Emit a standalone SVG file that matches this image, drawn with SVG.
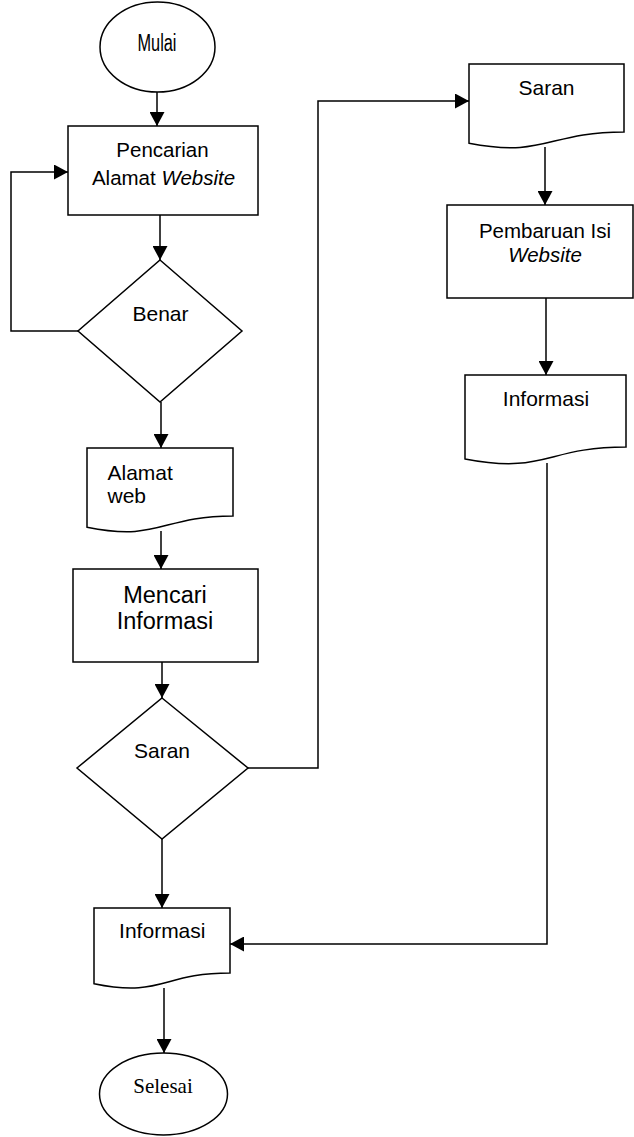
<svg xmlns="http://www.w3.org/2000/svg" width="634" height="1137" viewBox="0 0 634 1137">
<style>
.s{fill:#fff;stroke:#000;stroke-width:1.5}
.c{fill:none;stroke:#000;stroke-width:1.5}
.t{font-family:"Liberation Sans",Arial,sans-serif;fill:#000;text-anchor:middle}
.l{text-anchor:start}
.i{font-style:italic}
</style>
<defs>
<marker id="ah" markerUnits="userSpaceOnUse" markerWidth="15" markerHeight="15" refX="14" refY="7.5" orient="auto">
<path d="M0,0 L14,7.5 L0,15 Z" fill="#000"/>
</marker>
</defs>
<rect width="634" height="1137" fill="#fff"/>
<g id="connectors">
<path class="c" d="M157,92 V126" marker-end="url(#ah)"/>
<path class="c" d="M160,215 V260" marker-end="url(#ah)"/>
<path class="c" d="M78,331 H11 V172 H68" marker-end="url(#ah)"/>
<path class="c" d="M161,402 V448" marker-end="url(#ah)"/>
<path class="c" d="M161,531 V569" marker-end="url(#ah)"/>
<path class="c" d="M162,662 V698" marker-end="url(#ah)"/>
<path class="c" d="M248,768 H318 V101 H469" marker-end="url(#ah)"/>
<path class="c" d="M162,839 V908" marker-end="url(#ah)"/>
<path class="c" d="M545,147 V205" marker-end="url(#ah)"/>
<path class="c" d="M546,298 V375" marker-end="url(#ah)"/>
<path class="c" d="M547,463 V944 H230" marker-end="url(#ah)"/>
<path class="c" d="M164,988 V1053" marker-end="url(#ah)"/>
</g>
<g id="mulai">
<ellipse class="s" cx="157.5" cy="47" rx="57.5" ry="45"/>
<text class="t" x="157" y="51" style="font-size:23px" textLength="39" lengthAdjust="spacingAndGlyphs">Mulai</text>
</g>
<g id="pencarian">
<rect class="s" x="68" y="126" width="190" height="89"/>
<text class="t" x="162.5" y="157" style="font-size:20.5px">Pencarian</text>
<text class="t" x="163.5" y="185" style="font-size:20.5px">Alamat <tspan class="i">Website</tspan></text>
</g>
<g id="benar">
<path class="s" d="M160,260 L242,331 L160,402 L78,331 Z"/>
<text class="t" x="160.5" y="321" style="font-size:21px">Benar</text>
</g>
<g id="alamat-web">
<path class="s" d="M87,448 H233 V516 C160,516 160,541.9 87,527.2 Z"/>
<text class="t l" x="107.5" y="480" style="font-size:21px">Alamat</text>
<text class="t l" x="107.5" y="503" style="font-size:21px">web</text>
</g>
<g id="mencari">
<rect class="s" x="73" y="569" width="185" height="93"/>
<text class="t" x="165" y="603" style="font-size:23.5px">Mencari</text>
<text class="t" x="165" y="629" style="font-size:23.5px">Informasi</text>
</g>
<g id="saran-decision">
<path class="s" d="M162,698 L248,768 L162,839 L77,768 Z"/>
<text class="t" x="162" y="758" style="font-size:21px">Saran</text>
</g>
<g id="saran-doc">
<path class="s" d="M469,64 H624 V132 C546.5,132 546.5,157.9 469,143.2 Z"/>
<text class="t" x="546.5" y="95" style="font-size:21px">Saran</text>
</g>
<g id="pembaruan">
<rect class="s" x="447" y="205" width="186" height="93"/>
<text class="t" x="545" y="237.5" style="font-size:20.5px">Pembaruan Isi</text>
<text class="t i" x="545" y="261.5" style="font-size:20.5px">Website</text>
</g>
<g id="informasi-right">
<path class="s" d="M465,375 H626 V447 C545.5,447 545.5,474.5 465,458.9 Z"/>
<text class="t" x="546" y="406" style="font-size:21px">Informasi</text>
</g>
<g id="informasi-bottom">
<path class="s" d="M94,908 H230 V973 C162,973 162,997.7 94,983.7 Z"/>
<text class="t" x="162.3" y="938" style="font-size:21px">Informasi</text>
</g>
<g id="selesai">
<ellipse class="s" cx="163.5" cy="1094" rx="64" ry="41"/>
<text class="t" x="163" y="1093" style="font-size:21px;font-family:'Liberation Serif','Times New Roman',serif">Selesai</text>
</g>
</svg>
